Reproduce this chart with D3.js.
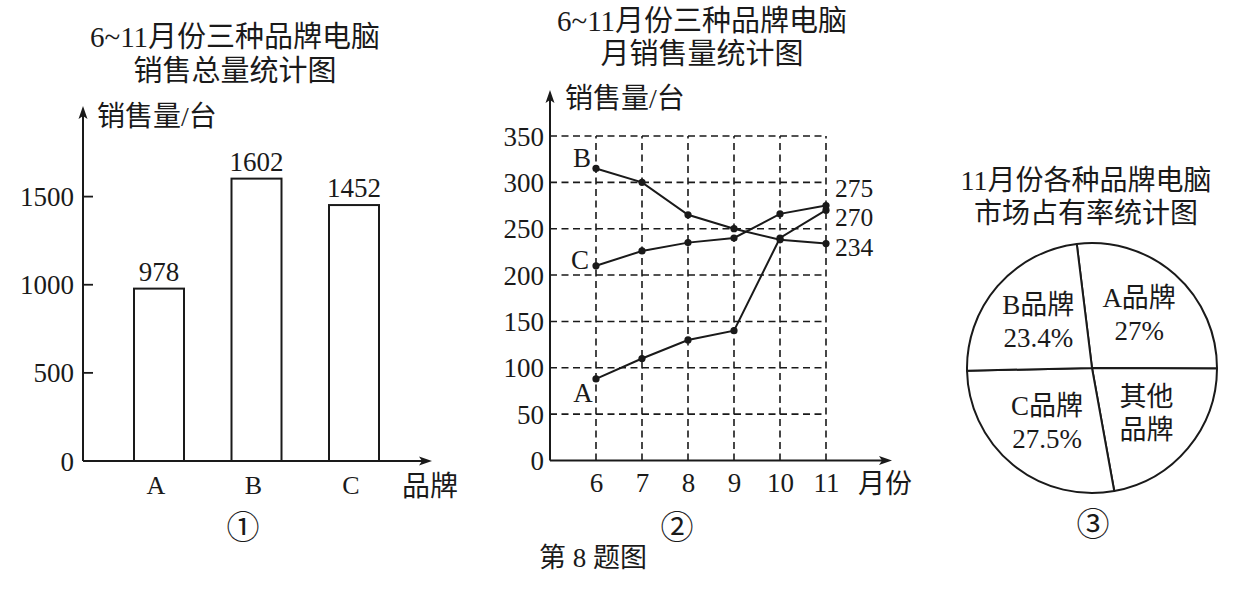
<!DOCTYPE html>
<html>
<head>
<meta charset="utf-8">
<script src="https://cdn.jsdelivr.net/npm/d3@7/dist/d3.min.js"></script>
<style>
  html, body { margin: 0; padding: 0; background: #fff; }
  svg { display: block; }
  text { font-family: "Liberation Serif", "Noto Sans CJK SC", serif; fill: #1a1a1a; }
  .circ { font-family: "Noto Sans CJK SC", "DejaVu Sans", sans-serif; }
</style>
</head>
<body>
<svg id="chart" width="1259" height="596"></svg>
<script>
// ---------- DATA ----------
// Chart ①: total sales June–November
const brands = ["A", "B", "C"];
const totals = [978, 1602, 1452];
const barTicks = [0, 500, 1000, 1500];

// Chart ②: monthly sales
const months = [6, 7, 8, 9, 10, 11];
const salesA = [88, 110, 130, 140, 240, 270];
const salesB = [315, 300, 265, 250, 238, 234];
const salesC = [210, 226, 235, 240, 266, 275];
const lineTicks = [0, 50, 100, 150, 200, 250, 300, 350];
const endLabels = [275, 270, 234]; // C, A, B at November

// Chart ③: November market share
const pieLabels = ["A品牌", "其他品牌", "C品牌", "B品牌"];
const pieShares = [27, 22.1, 27.5, 23.4];
const pieTexts = [["A品牌", "27%"], ["其他", "品牌"], ["C品牌", "27.5%"], ["B品牌", "23.4%"]];

// ---------- DRAW ----------
const svg = d3.select("#chart");
const ink = "#1a1a1a";

function arrowUp(g, x, y) {
  g.append("path").attr("d", `M${x},${y} L${x - 4.5},${y + 13} L${x},${y + 10} L${x + 4.5},${y + 13} Z`).attr("fill", ink);
}
function arrowRight(g, x, y) {
  g.append("path").attr("d", `M${x},${y} L${x - 13},${y - 4.5} L${x - 10},${y} L${x - 13},${y + 4.5} Z`).attr("fill", ink);
}
function title(lines, cx, ys, size) {
  lines.forEach((t, i) => {
    svg.append("text").attr("x", cx).attr("y", ys[i])
      .attr("text-anchor", "middle").attr("dominant-baseline", "central")
      .attr("font-size", size).text(t);
  });
}
function circled(t, x, y) {
  svg.append("text").attr("class", "circ").attr("x", x).attr("y", y)
    .attr("text-anchor", "middle").attr("dominant-baseline", "central").attr("font-size", 33).text(t);
}

// ===== Chart ① bar =====
{
  const g = svg.append("g");
  const y = d3.scaleLinear().domain([0, 1500]).range([461, 196.6]);
  const x = d3.scalePoint().domain(brands).range([159, 354]);
  const axisX = 83;
  const bw = 50;

  g.append("line").attr("x1", axisX).attr("x2", axisX).attr("y1", y(0)).attr("y2", 112)
    .attr("stroke", ink).attr("stroke-width", 2);
  arrowUp(g, axisX, 106);
  g.append("line").attr("x1", axisX).attr("x2", 426).attr("y1", y(0)).attr("y2", y(0))
    .attr("stroke", ink).attr("stroke-width", 2);
  arrowRight(g, 432, y(0));

  const yAxis = d3.axisLeft(y).tickValues(barTicks).tickSize(0).tickPadding(0).tickFormat(d3.format("d"));
  const ya = g.append("g").attr("transform", `translate(74,0)`).call(yAxis);
  ya.select(".domain").remove();
  ya.selectAll("text").attr("font-size", 27).attr("font-family", "Liberation Serif").attr("fill", ink)
    .attr("dy", null).attr("dominant-baseline", "central");
  barTicks.filter(v => v > 0).forEach(v => {
    g.append("line").attr("x1", axisX).attr("x2", axisX + 10).attr("y1", y(v)).attr("y2", y(v))
      .attr("stroke", ink).attr("stroke-width", 1.8);
  });

  g.selectAll("rect.bar").data(totals).join("rect")
    .attr("x", (d, i) => x(brands[i]) - bw / 2)
    .attr("y", d => y(d))
    .attr("width", bw)
    .attr("height", d => y(0) - y(d))
    .attr("fill", "#fff").attr("stroke", ink).attr("stroke-width", 2);

  g.selectAll("text.val").data(totals).join("text")
    .attr("x", (d, i) => x(brands[i]))
    .attr("y", d => y(d) - 8)
    .attr("text-anchor", "middle").attr("font-size", 27).text(d => d);

  g.selectAll("text.cat").data(brands).join("text")
    .attr("x", d => x(d) - 3).attr("y", 485)
    .attr("text-anchor", "middle").attr("dominant-baseline", "central")
    .attr("font-size", 26).text(d => d);

  g.append("text").attr("x", 97).attr("y", 116)
    .attr("dominant-baseline", "central").attr("font-size", 28).text("销售量/台");
  g.append("text").attr("x", 402).attr("y", 486)
    .attr("dominant-baseline", "central").attr("font-size", 28).text("品牌");

  title(["6~11月份三种品牌电脑", "销售总量统计图"], 235, [37, 71], 29);
  circled("①", 243, 525);
}

// ===== Chart ② line =====
{
  const g = svg.append("g");
  const x = d3.scaleLinear().domain([5, 11]).range([550, 826]);
  const y = d3.scaleLinear().domain([0, 350]).range([460.5, 136]);
  const dash = "7,4.5";

  g.selectAll("line.hg").data(lineTicks.filter(v => v > 0)).join("line")
    .attr("x1", x(5)).attr("x2", x(11)).attr("y1", d => y(d)).attr("y2", d => y(d))
    .attr("stroke", ink).attr("stroke-width", 1.6).attr("stroke-dasharray", dash);
  g.selectAll("line.vg").data(months).join("line")
    .attr("x1", d => x(d)).attr("x2", d => x(d)).attr("y1", y(0)).attr("y2", y(350))
    .attr("stroke", ink).attr("stroke-width", 1.6).attr("stroke-dasharray", dash);

  g.append("line").attr("x1", x(5)).attr("x2", x(5)).attr("y1", y(0)).attr("y2", 96)
    .attr("stroke", ink).attr("stroke-width", 2);
  arrowUp(g, x(5), 90);
  g.append("line").attr("x1", x(5)).attr("x2", 886).attr("y1", y(0)).attr("y2", y(0))
    .attr("stroke", ink).attr("stroke-width", 2);
  arrowRight(g, 892, y(0));

  const ya = g.append("g").attr("transform", "translate(544,0)")
    .call(d3.axisLeft(y).tickValues(lineTicks).tickSize(0).tickPadding(0));
  ya.select(".domain").remove();
  ya.selectAll("text").attr("font-size", 27).attr("font-family", "Liberation Serif").attr("fill", ink)
    .attr("dy", null).attr("dominant-baseline", "central");

  const xa = g.append("g").attr("transform", "translate(0,483)")
    .call(d3.axisBottom(x).tickValues(months).tickSize(0).tickPadding(0).tickFormat(d3.format("d")));
  xa.select(".domain").remove();
  xa.selectAll("text").attr("font-size", 27).attr("font-family", "Liberation Serif").attr("fill", ink)
    .attr("dy", null).attr("dominant-baseline", "central");

  const line = d3.line().x((d, i) => x(months[i])).y(d => y(d));
  [salesA, salesB, salesC].forEach(s => {
    g.append("path").datum(s).attr("d", line).attr("fill", "none").attr("stroke", ink).attr("stroke-width", 2);
    g.selectAll(null).data(s).join("circle")
      .attr("cx", (d, i) => x(months[i])).attr("cy", d => y(d)).attr("r", 3.6).attr("fill", ink);
  });

  const startLab = [["A", salesA, -13, 14], ["B", salesB, -14, -10], ["C", salesC, -16, -6]];
  startLab.forEach(([t, s, dx, dy]) => {
    g.append("text").attr("x", x(months[0]) + dx).attr("y", y(s[0]) + dy)
      .attr("text-anchor", "middle").attr("dominant-baseline", "central").attr("font-size", 27).text(t);
  });
  const endOff = [-17.5, 7, 3.5];
  endLabels.forEach((v, i) => {
    g.append("text").attr("x", 835).attr("y", y(v) + endOff[i])
      .attr("dominant-baseline", "central").attr("font-size", 25.5).text(v);
  });

  g.append("text").attr("x", 565).attr("y", 98)
    .attr("dominant-baseline", "central").attr("font-size", 28).text("销售量/台");
  g.append("text").attr("x", 858).attr("y", 484)
    .attr("dominant-baseline", "central").attr("font-size", 27).text("月份");

  title(["6~11月份三种品牌电脑", "月销售量统计图"], 702, [21, 54], 29);
  circled("②", 677, 525);
}

// ===== Chart ③ pie =====
{
  const cx = 1092, cy = 368, r = 125;
  const g = svg.append("g").attr("transform", `translate(${cx},${cy})`);
  const start = -7 * Math.PI / 180;
  const pie = d3.pie().sort(null).startAngle(start).endAngle(start + 2 * Math.PI);
  const arcs = pie(pieShares);
  const arc = d3.arc().innerRadius(0).outerRadius(r);
  const labArc = d3.arc().innerRadius(71).outerRadius(71);

  g.selectAll("path").data(arcs).join("path")
    .attr("d", arc).attr("fill", "#fff").attr("stroke", ink).attr("stroke-width", 2)
    .attr("stroke-linejoin", "round");

  arcs.forEach((a, i) => {
    const [lx, ly] = labArc.centroid(a);
    pieTexts[i].forEach((t, j) => {
      g.append("text").attr("x", lx).attr("y", ly + (j === 0 ? -16.5 : 16.5))
        .attr("text-anchor", "middle").attr("dominant-baseline", "central")
        .attr("font-size", 27).text(t);
    });
  });

  title(["11月份各种品牌电脑", "市场占有率统计图"], 1086, [180, 213], 28);
  circled("③", 1093, 522);
}

svg.append("text").attr("x", 593).attr("y", 558)
  .attr("text-anchor", "middle").attr("dominant-baseline", "central").attr("font-size", 27).text("第 8 题图");
</script>
</body>
</html>
